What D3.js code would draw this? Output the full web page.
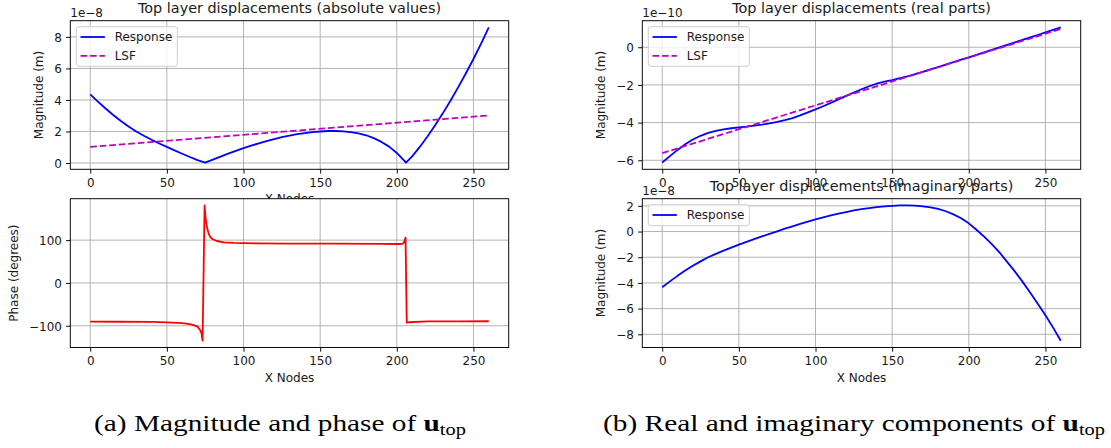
<!DOCTYPE html>
<html><head><meta charset="utf-8">
<script src="https://cdn.jsdelivr.net/npm/d3@7"></script>
<style>html,body{margin:0;padding:0;background:#fff;} svg{display:block;}</style>
</head><body>
<svg id="c" width="1111" height="448"></svg>
<script>
// ---------------- data ----------------
const xNodes = [0,5,10,15,20,25,30,35,40,45,50,55,60,65,70,75,80,85,90,95,100,105,110,115,120,125,130,135,140,145,150,155,160,165,170,175,180,185,190,195,200,205,210,215,220,225,230,235,240,245,250,255,260];
// imaginary parts (x 1e-8 m)
const imagParts = [-4.33,-3.88,-3.45,-3.04,-2.66,-2.32,-2.00,-1.74,-1.49,-1.25,-1.02,-0.80,-0.59,-0.38,-0.18,0.02,0.22,0.41,0.59,0.77,0.94,1.10,1.25,1.39,1.52,1.64,1.74,1.83,1.90,1.96,2.00,2.03,2.03,2.01,1.96,1.88,1.76,1.58,1.34,1.04,0.64,0.14,-0.40,-0.98,-1.62,-2.36,-3.10,-3.90,-4.74,-5.62,-6.52,-7.48,-8.50];
// real parts (x 1e-10 m)
const realParts = [-6.12,-5.78,-5.45,-5.15,-4.90,-4.70,-4.55,-4.44,-4.36,-4.30,-4.25,-4.21,-4.16,-4.11,-4.04,-3.96,-3.87,-3.76,-3.62,-3.46,-3.30,-3.13,-2.95,-2.77,-2.58,-2.40,-2.23,-2.07,-1.93,-1.83,-1.74,-1.64,-1.54,-1.43,-1.31,-1.18,-1.05,-0.92,-0.79,-0.66,-0.54,-0.41,-0.275,-0.14,-0.01,0.12,0.255,0.39,0.52,0.65,0.785,0.92,1.05];
// absolute values (x 1e-8 m)
const absX = [0,5,10,15,20,25,30,35,40,45,50,55,60,65,70,75,80,85,90,95,100,105,110,115,120,125,130,135,140,145,150,155,160,165,170,175,180,185,190,195,200,205,206,210,215,220,225,230,235,240,245,250,255,260];
const absValues = [4.36,3.90,3.46,3.05,2.67,2.32,2.00,1.73,1.48,1.24,1.02,0.80,0.59,0.38,0.18,0.03,0.22,0.41,0.59,0.77,0.94,1.10,1.25,1.39,1.52,1.64,1.74,1.83,1.90,1.96,2.00,2.03,2.03,2.01,1.96,1.88,1.76,1.58,1.34,1.04,0.64,0.14,0.03,0.42,1.02,1.68,2.40,3.15,3.95,4.80,5.68,6.60,7.58,8.60];
// least squares fits
const lsfX = [0,260];
const lsfAbs = [1.02,3.02];
const lsfReal = [-5.62,0.97];
// phase (degrees)
const phaseX = [0,20,40,50,60,65,68,70,71.7,72.6,73.3,74.6,75.3,76.1,77.2,78.3,80,82.6,87,93.5,110,130,158.7,190,202,204,204.8,205.7,206.5,207.6,220,240,260];
const phaseDeg = [-90.5,-90.6,-91,-92,-94,-96,-99,-102,-110,-118,-135,181,150,131,116,107,102,98,95,93.4,92.5,92,91.8,91.3,91,92,95.7,106,-93,-91.8,-90,-89.7,-89.5];
// ticks
const xTicks = [0,50,100,150,200,250];
const absTicks = [0,2,4,6,8];
const phaseTicks = [-100,0,100];
const realTicks = [-6,-4,-2,0];
const imagTicks = [-8,-6,-4,-2,0,2];

// ---------------- drawing ----------------
const svg = d3.select('#c');
const FONT = "'DejaVu Sans', sans-serif";
const TXT = '#1a1a1a';
const LW = 1.8;
const DASH = '6.66,2.88';
const pad = ([a,b]) => { const m=(b-a)*0.05; return [a-m,b+m]; };
const fmt = d3.format('d');

const COL = {L:[70.3,508.7], R:[642.3,1080.7]};
const ROW = {T:[20.7,169.3], B:[198.7,347.5]};

function panel(o){
  const [L,R] = o.cols, [T,B] = o.rows;
  const g = svg.append('g');
  const allX = o.series.flatMap(s=>s.x), allY = o.series.flatMap(s=>s.y);
  const x = d3.scaleLinear().domain(pad(d3.extent(allX))).range([L,R]);
  const y = d3.scaleLinear().domain(pad(d3.extent(allY))).range([B,T]);
  g.append('rect').attr('x',L).attr('y',T).attr('width',R-L).attr('height',B-T).attr('fill','#fff');
  // grid
  g.append('g').selectAll('line').data(xTicks).join('line')
    .attr('x1',d=>x(d)).attr('x2',d=>x(d)).attr('y1',T).attr('y2',B)
    .attr('stroke','#b0b0b0').attr('stroke-width',0.96);
  g.append('g').selectAll('line').data(o.yTicks).join('line')
    .attr('y1',d=>y(d)).attr('y2',d=>y(d)).attr('x1',L).attr('x2',R)
    .attr('stroke','#b0b0b0').attr('stroke-width',0.96);
  // series
  const line = d3.line().x(d=>x(d[0])).y(d=>y(d[1]));
  o.series.forEach(s=>{
    g.append('path').datum(s.x.map((v,i)=>[v,s.y[i]]))
      .attr('d',line).attr('fill','none').attr('stroke',s.color)
      .attr('stroke-width',LW).attr('stroke-linejoin','round')
      .attr('stroke-dasharray',s.dash||null);
  });
  // spines
  g.append('rect').attr('x',L).attr('y',T).attr('width',R-L).attr('height',B-T)
    .attr('fill','none').attr('stroke','#000').attr('stroke-width',0.96);
  // axes
  const ax = g.append('g').attr('transform',`translate(0,${B})`)
    .call(d3.axisBottom(x).tickValues(xTicks).tickFormat(fmt).tickSize(4.2).tickPadding(4.8));
  const ay = g.append('g').attr('transform',`translate(${L},0)`)
    .call(d3.axisLeft(y).tickValues(o.yTicks).tickFormat(fmt).tickSize(4.2).tickPadding(4.2));
  [ax,ay].forEach(a=>{
    a.select('.domain').remove();
    a.selectAll('line').attr('stroke','#000').attr('stroke-width',0.96);
    a.selectAll('text').attr('font-family',FONT).attr('font-size',12).attr('fill',TXT);
  });
  ay.selectAll('text').attr('dy','0.36em');
  let maxW = 0;
  ay.selectAll('text').each(function(){ maxW = Math.max(maxW,this.getBBox().width); });
  // title
  g.append('text').attr('x',(L+R)/2).attr('y',T-7.5).attr('text-anchor','middle')
    .attr('font-family',FONT).attr('font-size',14.4).attr('fill',TXT).text(o.title);
  if(o.offset){
    g.append('text').attr('x',L).attr('y',T-4.2)
      .attr('font-family',FONT).attr('font-size',12).attr('fill',TXT).text(o.offset);
  }
  // y label
  const lx = L - 8.4 - maxW - 4.8 - 6.3;
  g.append('text').attr('transform',`translate(${lx},${(T+B)/2}) rotate(-90)`)
    .attr('text-anchor','middle').attr('font-family',FONT).attr('font-size',12).attr('fill',TXT).text(o.ylabel);
  if(o.xlabel){
    g.append('text').attr('x',(L+R)/2).attr('y',B+34).attr('text-anchor','middle')
      .attr('font-family',FONT).attr('font-size',12).attr('fill',TXT).text(o.xlabel);
  }
  // legend
  if(o.legend){
    const n = o.legend.length;
    const bx = L+6, by = T+6;
    const lg = g.append('g');
    const box = lg.append('rect').attr('x',bx).attr('y',by).attr('rx',2.5)
      .attr('height',21+(n-1)*18.6).attr('fill','#fff').attr('fill-opacity',0.8)
      .attr('stroke','#cccccc').attr('stroke-width',0.96);
    let tw = 0;
    o.legend.forEach((s,i)=>{
      const cy = by + 10.3 + i*18.8;
      lg.append('line').attr('x1',bx+4.2).attr('x2',bx+28.6).attr('y1',cy).attr('y2',cy)
        .attr('stroke',s.color).attr('stroke-width',LW).attr('stroke-dasharray',s.dash||null);
      const t = lg.append('text').attr('x',bx+38.4).attr('y',cy).attr('dy','0.36em')
        .attr('font-family',FONT).attr('font-size',12).attr('fill',TXT).text(s.name);
      tw = Math.max(tw, t.node().getBBox().width);
    });
    box.attr('width',38.4+tw+5);
  }
}

const resp = (xs,ys,color) => ({x:xs,y:ys,color,name:'Response'});
const lsf = (ys) => ({x:lsfX,y:ys,color:'#bf00bf',dash:DASH,name:'LSF'});

const sAbs = [resp(absX,absValues,'#0000ff'), lsf(lsfAbs)];
panel({cols:COL.L, rows:ROW.T, series:sAbs, legend:sAbs, yTicks:absTicks,
  title:'Top layer displacements (absolute values)', offset:'1e\u22128', ylabel:'Magnitude (m)', xlabel:'X Nodes'});
const sReal = [resp(xNodes,realParts,'#0000ff'), lsf(lsfReal)];
panel({cols:COL.R, rows:ROW.T, series:sReal, legend:sReal, yTicks:realTicks,
  title:'Top layer displacements (real parts)', offset:'1e\u221210', ylabel:'Magnitude (m)'});
panel({cols:COL.L, rows:ROW.B, series:[{x:phaseX,y:phaseDeg,color:'#ff0000'}], yTicks:phaseTicks,
  title:'', ylabel:'Phase (degrees)', xlabel:'X Nodes'});
const sImag = [resp(xNodes,imagParts,'#0000ff')];
panel({cols:COL.R, rows:ROW.B, series:sImag, legend:sImag, yTicks:imagTicks,
  title:'Top layer displacements (imaginary parts)', offset:'1e\u22128', ylabel:'Magnitude (m)', xlabel:'X Nodes'});

// captions
function caption(cx, baseline, prefix, target){
  const t = svg.append('text').attr('x',cx).attr('y',baseline).attr('text-anchor','middle')
    .attr('font-family',"'Liberation Serif', serif").attr('font-size',23).attr('fill','#000');
  t.append('tspan').text(prefix);
  t.append('tspan').attr('font-weight','bold').text('u');
  t.append('tspan').attr('font-size',16).attr('dy',4).text('top');
  const w = t.node().getBBox().width;
  const s = target / w;
  t.attr('transform',`translate(${cx},${baseline}) scale(${s},1) translate(${-cx},${-baseline})`);
}
caption(280, 431, '(a) Magnitude and phase of ', 372);
caption(854, 431, '(b) Real and imaginary components of ', 502);
</script>
</body></html>
